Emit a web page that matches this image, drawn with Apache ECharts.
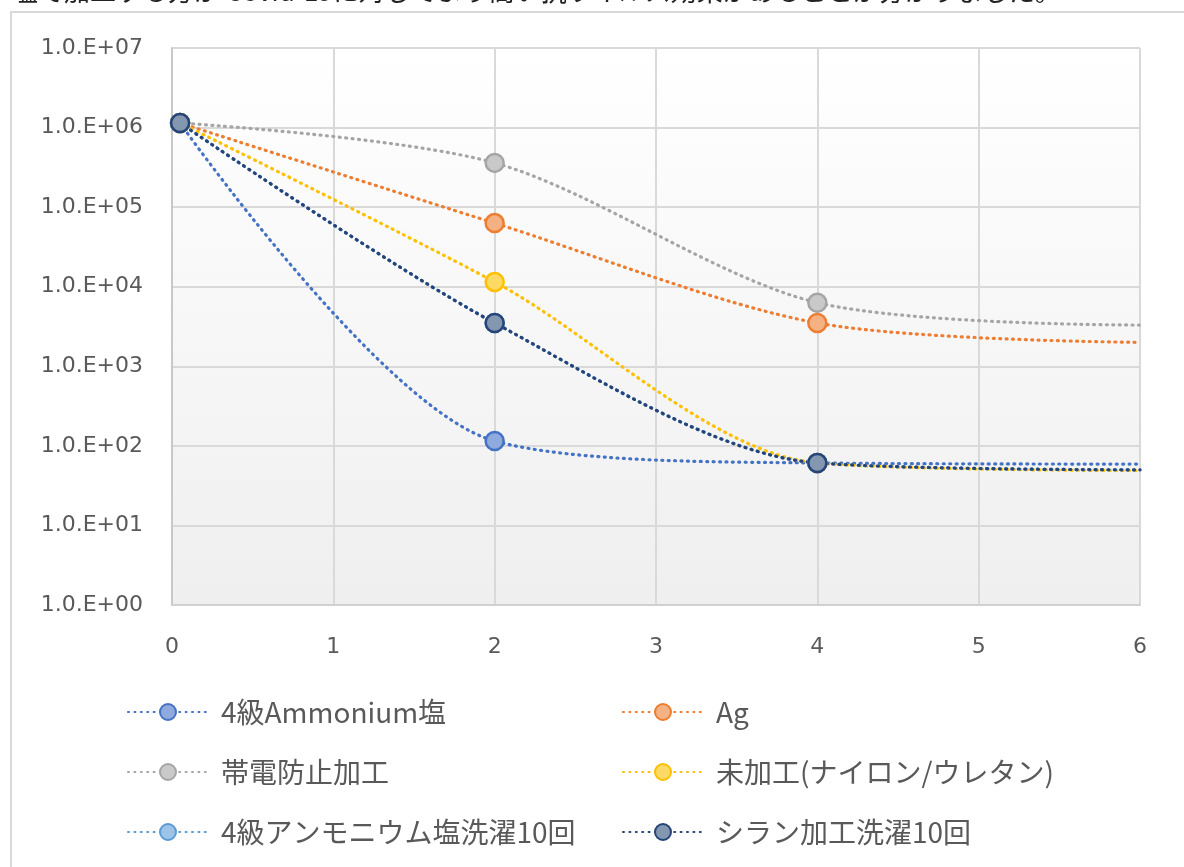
<!DOCTYPE html>
<html>
<head>
<meta charset="utf-8">
<script src="https://cdn.jsdelivr.net/npm/echarts@6/dist/echarts.min.js"></script>
<style>
html, body { margin: 0; padding: 0; background: #fff; }
#main { width: 1184px; height: 867px; }
</style>
</head>
<body>
<div id="main"></div>
<script>
// 横軸の値（最後の点は右端まで伸びる線の終点）
const xValues = [0.05, 2, 4, 6];
const xTicks = [0, 1, 2, 3, 4, 5, 6];
const yMinExp = 0;
const yMaxExp = 7;

// 系列名
const seriesNames = [
    '4級Ammonium塩',
    'Ag',
    '帯電防止加工',
    '未加工(ナイロン/ウレタン)',
    '4級アンモニウム塩洗濯10回',
    'シラン加工洗濯10回'
];

// 各系列の値
const ammoniumData = [1.14e6, 115, 61, 59];
const agData = [1.14e6, 6.3e4, 3.5e3, 2.0e3];
const antistaticData = [1.14e6, 3.6e5, 6.3e3, 3.3e3];
const untreatedData = [1.14e6, 1.15e4, 61, 49];
const ammoniumWashData = [1.14e6, 3.5e3, 61, 50];
const silaneWashData = [1.14e6, 3.5e3, 61, 50];

const allData = [ammoniumData, agData, antistaticData, untreatedData, ammoniumWashData, silaneWashData];

// 色（線, マーカー塗り）
const lineColors = ['#4472C4', '#ED7D31', '#A5A5A5', '#FFC000', '#5B9BD5', '#264478'];
const fillColors = ['#8FAADC', '#F4B183', '#C9C9C9', '#FFD966', '#9DC3E6', '#8497B0'];

const chart = echarts.init(document.getElementById('main'));

function buildSeries(i) {
    const data = allData[i].map((v, k) => {
        const item = { value: [xValues[k], v] };
        // 右端の点はマーカーなし
        if (k === xValues.length - 1) item.symbol = 'none';
        return item;
    });
    return {
        name: seriesNames[i],
        type: 'line',
        smooth: 0.3,
        data: data,
        symbol: 'circle',
        symbolSize: 18,
        showAllSymbol: true,
        lineStyle: { color: lineColors[i], width: 3.2, type: [1, 5.4], cap: 'round' },
        itemStyle: { color: fillColors[i], borderColor: lineColors[i], borderWidth: 2.5 },
        emphasis: { disabled: true }
    };
}

const legendText = { color: '#595959', fontSize: 28, fontFamily: 'Noto Sans CJK JP', padding: [0, 0, 0, 8] };

const option = {
    animation: false,
    backgroundColor: '#fff',
    graphic: [
        {
            type: 'text',
            left: 12,
            top: -22,
            style: {
                text: '塩で加工する方が Covid-19に対してより高い抗ウイルス効果があることが分かりました。',
                font: '26px "Noto Sans CJK JP"',
                fill: '#222'
            }
        },
        {
            type: 'rect',
            shape: { x: 11, y: 12, width: 1250, height: 950 },
            style: { fill: 'none', stroke: '#d9d9d9', lineWidth: 2 },
            z: -1
        }
    ],
    grid: {
        left: 172, right: 44, top: 48, bottom: 262,
        show: true,
        borderWidth: 0,
        backgroundColor: {
            type: 'linear', x: 0, y: 0, x2: 0, y2: 1,
            colorStops: [{ offset: 0, color: '#ffffff' }, { offset: 1, color: '#efefef' }]
        }
    },
    legend: [
        {
            orient: 'vertical', left: 122, top: 693,
            itemWidth: 80, itemHeight: 20, itemGap: 32,
            data: [seriesNames[0], seriesNames[2], seriesNames[4]],
            textStyle: legendText
        },
        {
            orient: 'vertical', left: 617, top: 693,
            itemWidth: 80, itemHeight: 20, itemGap: 32,
            data: [seriesNames[1], seriesNames[3], seriesNames[5]],
            textStyle: legendText
        }
    ],
    xAxis: {
        type: 'value',
        min: xTicks[0], max: xTicks[xTicks.length - 1], interval: 1,
        axisLine: { show: true, lineStyle: { color: '#d0d0d0', width: 2 } },
        axisTick: { show: false },
        axisLabel: { color: '#595959', fontSize: 22, fontFamily: 'DejaVu Sans', margin: 31 },
        splitLine: { show: true, lineStyle: { color: '#d9d9d9', width: 2 } }
    },
    yAxis: {
        type: 'log',
        logBase: 10,
        min: Math.pow(10, yMinExp), max: Math.pow(10, yMaxExp),
        splitNumber: yMaxExp - yMinExp,
        axisLine: { show: true, lineStyle: { color: '#c8c8c8', width: 2 } },
        axisTick: { show: false },
        axisLabel: {
            color: '#595959', fontSize: 22, fontFamily: 'DejaVu Sans', margin: 29,
            formatter: v => {
                const e = Math.round(Math.log10(v));
                return '1.0.E+' + (e < 10 ? '0' : '') + e;
            }
        },
        splitLine: { show: true, lineStyle: { color: '#d9d9d9', width: 2 } }
    },
    series: seriesNames.map((n, i) => buildSeries(i))
};

chart.setOption(option);
</script>
</body>
</html>
